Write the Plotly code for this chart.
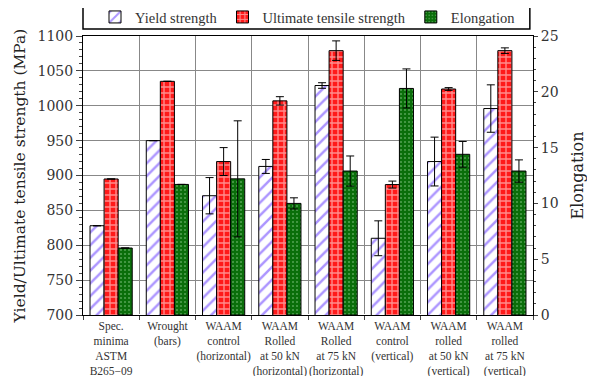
import plotly.graph_objects as go

categories = [
    "Spec.<br>minima<br>ASTM<br>B265\u221209",
    "Wrought<br>(bars)",
    "WAAM<br>control<br>(horizontal)",
    "WAAM<br>Rolled<br>at 50 kN<br>(horizontal)",
    "WAAM<br>Rolled<br>at 75 kN<br>(horizontal)",
    "WAAM<br>control<br>(vertical)",
    "WAAM<br>rolled<br>at 50 kN<br>(vertical)",
    "WAAM<br>rolled<br>at 75 kN<br>(vertical)",
]
yield_strength = [828, 950, 871, 913, 1029, 810, 920, 996]
yield_err = [0, 0, 26, 10, 4, 25, 35, 34]
uts = [895, 1035, 920, 1007, 1079, 887, 1024, 1079]
uts_err = [0, 0, 20, 6, 14, 5, 2, 4]
elongation = [6.0, 11.7, 12.2, 10.0, 12.9, 20.3, 14.4, 12.9]
elong_err = [0, 0, 5.2, 0.5, 1.35, 1.75, 1.15, 1.0]

serif = "DejaVu Serif"
lserif = "Liberation Serif"

fig = go.Figure()
fig.add_trace(go.Bar(
    x=categories, y=yield_strength, name="Yield strength", offsetgroup="1",
    marker=dict(color="white", line=dict(color="black", width=1),
                pattern=dict(shape="/", fgcolor="#5a2cff", bgcolor="white", size=9, solidity=0.28)),
    error_y=dict(type="data", array=yield_err, color="black", thickness=1, width=4),
))
fig.add_trace(go.Bar(
    x=categories, y=uts, name="Ultimate tensile strength", offsetgroup="2",
    marker=dict(color="#ff1a1a", line=dict(color="black", width=1),
                pattern=dict(shape="+", fgcolor="white", bgcolor="#ff1a1a", size=6, solidity=0.4)),
    error_y=dict(type="data", array=uts_err, color="black", thickness=1, width=4),
))
fig.add_trace(go.Bar(
    x=categories, y=elongation, name="Elongation", offsetgroup="3", yaxis="y2",
    marker=dict(color="#0a6e0a", line=dict(color="black", width=1),
                pattern=dict(shape=".", fgcolor="#9fd89f", bgcolor="#0a6e0a", size=4, solidity=0.2)),
    error_y=dict(type="data", array=elong_err, color="black", thickness=1, width=4),
))

fig.update_layout(
    width=595, height=376,
    margin=dict(l=75, r=70, t=28, b=69, autoexpand=False),
    paper_bgcolor="white", plot_bgcolor="white",
    barmode="group", bargap=0.25, bargroupgap=0,
    font=dict(family=serif, color="#333333"),
    showlegend=True,
    legend=dict(orientation="h", x=0.5, xanchor="center", y=1.068, yanchor="middle",
                bgcolor="rgba(0,0,0,0)", borderwidth=0,
                font=dict(family=lserif, size=14.5, color="#333333"),
                itemwidth=30, tracegroupgap=0),
    xaxis=dict(
        type="category", tickson="boundaries", ticks="outside", ticklen=4,
        tickcolor="#444", showgrid=True, gridcolor="#888888", gridwidth=1,
        showline=True, linecolor="black", linewidth=1, mirror=True,
        tickangle=0, automargin=False,
        tickfont=dict(family=lserif, size=11.5, color="#333333"),
    ),
    yaxis=dict(
        range=[700, 1100], dtick=50, ticks="outside", ticklen=6, tickcolor="#444",
        showgrid=True, gridcolor="#888888", gridwidth=1,
        showline=True, linecolor="black", linewidth=1, mirror=True, automargin=False,
        minor=dict(dtick=10, ticks="outside", ticklen=3, tickcolor="#444", showgrid=False),
        tickfont=dict(family=serif, size=14, color="#333333"),
        title=dict(text="Yield/Ultimate tensile strength (MPa)", standoff=8,
                   font=dict(family=serif, size=15.5, color="#222222")),
    ),
    yaxis2=dict(
        overlaying="y", side="right", range=[0, 25], dtick=5, automargin=False,
        ticks="outside", ticklen=4, tickcolor="#444", showgrid=False,
        minor=dict(dtick=1, ticks="outside", ticklen=2, tickcolor="#444"),
        tickfont=dict(family=serif, size=14, color="#333333"),
        title=dict(text="Elongation", standoff=14,
                   font=dict(family=serif, size=16, color="#222222")),
    ),
    shapes=[dict(type="rect", xref="paper", yref="paper", x0=0, x1=0.993,
                 y0=1.025, y1=1.115, line=dict(color="black", width=1.5),
                 fillcolor="rgba(0,0,0,0)")],
)

fig.write_html("out.html")
